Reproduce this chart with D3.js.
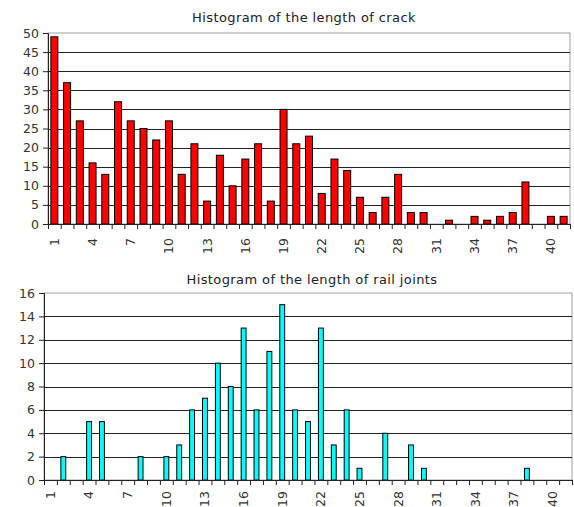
<!doctype html>
<html lang="en">
<head>
    <meta charset="UTF-8" />
    <script src="https://d3js.org/d3.v7.min.js"></script>
    <title>Histograms</title>
    <style>
        body { margin: 0; background: #fff; }
        svg text { font-family: "DejaVu Sans", sans-serif; fill: #222; }
    </style>
</head>
<body>
    <div id="chart"></div>
    <script>
        // lengths 1..41
        const lengths = d3.range(1, 42)
        const xTickLabels = [1, 4, 7, 10, 13, 16, 19, 22, 25, 28, 31, 34, 37, 40]

        // Histogram of the length of crack
        const crackCounts = [49, 37, 27, 16, 13, 32, 27, 25, 22, 27,
            13, 21, 6, 18, 10, 17, 21, 6, 30, 21,
            23, 8, 17, 14, 7, 3, 7, 13, 3, 3,
            0, 1, 0, 2, 1, 2, 3, 11, 0, 2, 2]
        const crackTicks = [0, 5, 10, 15, 20, 25, 30, 35, 40, 45, 50]

        // Histogram of the length of rail joints
        const jointCounts = [0, 2, 0, 5, 5, 0, 0, 2, 0, 2,
            3, 6, 7, 10, 8, 13, 6, 11, 15, 6,
            5, 13, 3, 6, 1, 0, 4, 0, 3, 1,
            0, 0, 0, 0, 0, 0, 0, 1, 0, 0, 0]
        const jointTicks = [0, 2, 4, 6, 8, 10, 12, 14, 16]

        const W = 574, H = 507
        const svg = d3.select("#chart").append("svg")
            .attr("width", W)
            .attr("height", H)

        function drawHist(opts) {
            const { title, titleX, counts, ticks, color, left, right, top, bottom, titleY, barFrac, labelOffset } = opts
            const g = svg.append("g")

            const x = d3.scaleBand().domain(lengths).range([left, right]).padding(0)
            const xb = d3.scaleLinear().domain([0, lengths.length]).range([left, right])
            const y = d3.scaleLinear().domain([0, d3.max(ticks)]).range([bottom, top])

            // title
            g.append("text")
                .attr("x", titleX)
                .attr("y", titleY)
                .attr("text-anchor", "middle")
                .style("font-size", "13px")
                .style("letter-spacing", "0.4px")
                .text(title)

            // plot frame (grey)
            g.append("rect")
                .attr("x", left)
                .attr("y", top)
                .attr("width", right - left)
                .attr("height", bottom - top)
                .attr("fill", "none")
                .attr("stroke", "#a0a0a0")

            // gridlines
            g.selectAll(".grid")
                .data(ticks.filter(t => t > 0 && t < d3.max(ticks)))
                .enter()
                .append("line")
                .attr("x1", left)
                .attr("x2", right)
                .attr("y1", d => Math.round(y(d)) + 0.5)
                .attr("y2", d => Math.round(y(d)) + 0.5)
                .attr("stroke", "#222")
                .attr("stroke-width", 1.2)

            // bars
            const bw = x.bandwidth() * barFrac
            g.selectAll(".bar")
                .data(counts.map((c, i) => ({ len: lengths[i], c })).filter(d => d.c > 0))
                .enter()
                .append("rect")
                .attr("x", d => x(d.len) + (x.bandwidth() - bw) / 2)
                .attr("y", d => y(d.c))
                .attr("width", bw)
                .attr("height", d => y(0) - y(d.c))
                .attr("fill", color)
                .attr("stroke", "#000")
                .attr("stroke-width", 1)

            // y axis
            const yAxis = g.append("g")
                .attr("transform", `translate(${left},0)`)
                .call(d3.axisLeft(y).tickValues(ticks).tickSize(5).tickPadding(4))
            yAxis.select(".domain").attr("stroke", "#222")
            yAxis.selectAll("line").attr("stroke", "#222")
            yAxis.selectAll("text").style("font-size", "12.5px").style("fill", "#333")

            // x axis: tick marks at category boundaries
            const xAxis = g.append("g")
                .attr("transform", `translate(0,${bottom})`)
                .call(d3.axisBottom(xb).tickValues(d3.range(0, lengths.length + 1)).tickSize(5).tickFormat(""))
            xAxis.select(".domain").attr("stroke", "#222")
            xAxis.selectAll("line").attr("stroke", "#222")

            // x labels, rotated
            const xLab = g.append("g")
                .attr("transform", `translate(0,${bottom})`)
                .call(d3.axisBottom(x).tickValues(xTickLabels).tickSize(0))
            xLab.select(".domain").remove()
            xLab.selectAll("text")
                .attr("transform", "rotate(-90)")
                .attr("x", -labelOffset)
                .attr("y", 0)
                .attr("dy", "0.35em")
                .attr("text-anchor", "end")
                .style("font-size", "12.5px")
                .style("fill", "#333")
        }

        drawHist({
            title: "Histogram of the length of crack", titleX: 304,
            counts: crackCounts, ticks: crackTicks, color: "#ff0000",
            left: 48, right: 570, top: 33, bottom: 224, titleY: 22, barFrac: 0.55, labelOffset: 14
        })

        drawHist({
            title: "Histogram of the length of rail joints", titleX: 312,
            counts: jointCounts, ticks: jointTicks, color: "#00ffff",
            left: 44, right: 572, top: 293, bottom: 480, titleY: 284, barFrac: 0.38, labelOffset: 11
        })
    </script>
</body>
</html>
